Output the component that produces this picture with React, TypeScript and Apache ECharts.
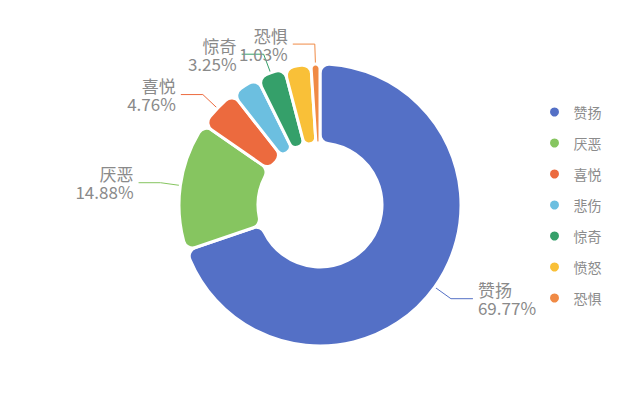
import React, { useEffect, useRef } from 'react';
import * as echarts from 'echarts';

// emotion categories and their shares (%)
const categories = ['赞扬', '厌恶', '喜悦', '悲伤', '惊奇', '愤怒', '恐惧'];
const shares = [69.77, 14.88, 4.76, 3.27, 3.25, 3.04, 1.03];
const colors = ['#5470c6', '#86c560', '#ec6a3e', '#6cbfe0', '#35a06a', '#f9c038', '#f08a45'];
// slices whose labels are not drawn in the reference
const hiddenLabels = ['悲伤', '愤怒'];

const App: React.FC = () => {
  const ref = useRef<HTMLDivElement>(null);

  useEffect(() => {
    if (!ref.current) return;
    const chart = echarts.init(ref.current, undefined, { renderer: 'svg' });

    const data = categories.map((name, i) => ({
      name,
      value: shares[i],
      itemStyle: { color: colors[i] },
      label: hiddenLabels.includes(name) ? { show: false } : undefined,
      labelLine: hiddenLabels.includes(name) ? { show: false } : undefined,
    }));

    const option: echarts.EChartsOption = {
      animation: false,
      legend: {
        orient: 'vertical',
        left: 535,
        top: 92,
        icon: 'circle',
        itemWidth: 28,
        itemHeight: 11,
        itemGap: 17,
        textStyle: {
          color: '#8c8c8c',
          fontSize: 14,
          fontFamily: 'Noto Sans CJK SC',
        },
        data: categories,
      },
      series: [
        {
          name: '情感',
          type: 'pie',
          center: [312, 197],
          radius: [62, 141],
          startAngle: 90,
          clockwise: true,
          avoidLabelOverlap: false,
          itemStyle: {
            borderColor: '#fff',
            borderWidth: 3,
            borderRadius: 9,
          },
          label: {
            formatter: '{b}\n{d}%',
            color: '#8a8a8a',
            fontSize: 17,
            lineHeight: 18,
            fontFamily: 'Noto Sans CJK SC',
          },
          labelLine: {
            length: 20,
            length2: 22,
          },
          data,
        },
      ],
    };

    chart.setOption(option);

    return () => {
      chart.dispose();
    };
  }, []);

  return <div ref={ref} style={{ width: '624px', height: '395px' }}></div>;
};

export default App;
